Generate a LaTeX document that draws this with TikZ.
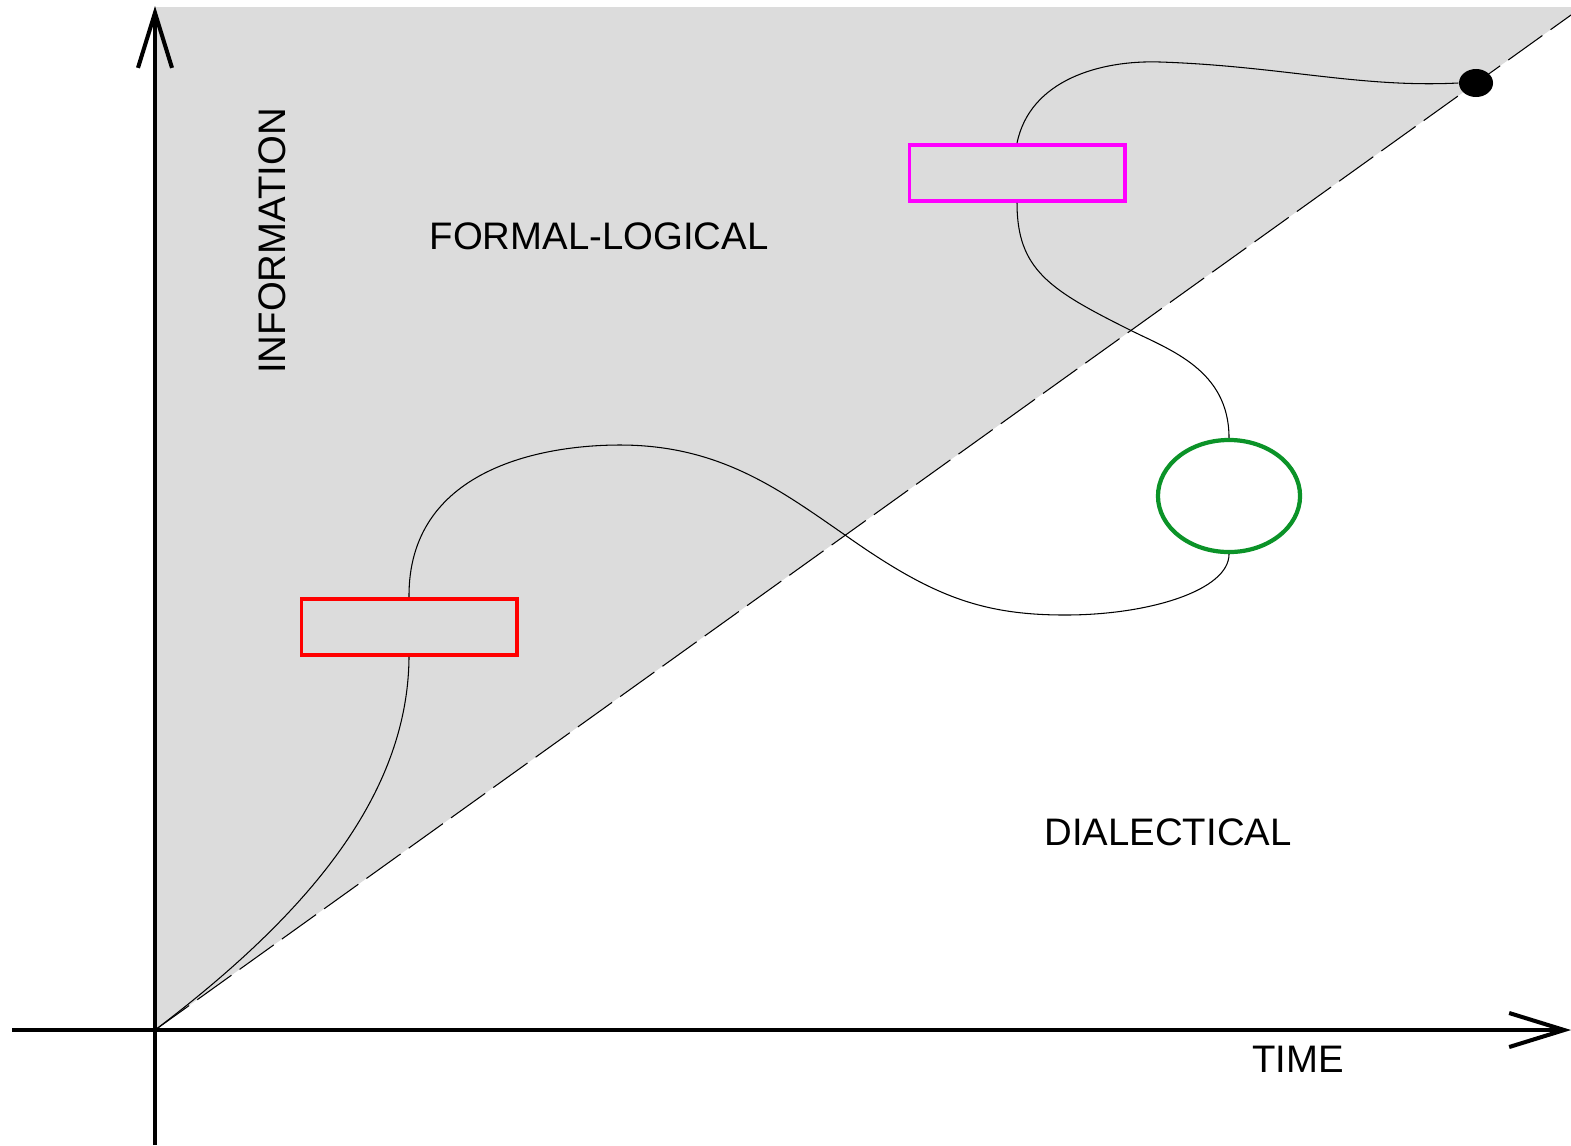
\documentclass[tikz,border=0pt]{standalone}
\usepackage{fontspec}
\setmainfont{Liberation Sans}
\usepackage{tikz}
\usetikzlibrary{arrows.meta, positioning, shapes.geometric}

\definecolor{zoneGrey}{HTML}{DCDCDC}
\definecolor{boxMagenta}{HTML}{FF00FF}
\definecolor{boxRed}{HTML}{FF0000}
\definecolor{ringGreen}{HTML}{0B9328}

\begin{document}
\begin{tikzpicture}[x=0.01cm, y=-0.01cm,
    axis/.style={line width=1.15pt, -{Straight Barb[length=0.55cm, width=0.34cm, line width=1.15pt]}},
    stage/.style={draw, line width=1.1pt, fill=zoneGrey, minimum width=2.15cm, minimum height=0.56cm, inner sep=0pt},
    ring/.style={ellipse, draw=ringGreen, line width=1.2pt, fill=white, minimum width=1.42cm, minimum height=1.12cm, inner sep=0pt},
    label/.style={font=\fontsize{10.9}{13}\selectfont, inner sep=0pt},
    path/.style={line width=0.3pt}
]
\useasboundingbox (0,0) rectangle (1571,1145);

% Zone above the boundary line
\coordinate (origin) at (155,1030);
\coordinate (edge) at (1571,15);
\fill[zoneGrey] (origin) -- (155,7) -- (1571,7) -- (edge) -- cycle;
\draw[line width=0.3pt, dash pattern=on 0.42cm off 0.1cm] (origin) -- (edge);

% Axes
\coordinate (ybot) at (155,1145);
\coordinate (ytop) at (155,6);
\coordinate (xleft) at (12,1030);
\coordinate (xright) at (1571,1030);
\draw[axis] (ybot) -- (ytop);
\draw[axis] (xleft) -- (xright);

% Stages
\node[stage, draw=boxRed] (low) at (409,627) {};
\node[stage, draw=boxMagenta] (high) at (1017,173) {};
\node[ring] (loop) at (1229,496) {};
\node[ellipse, fill=black, minimum width=0.34cm, minimum height=0.28cm, inner sep=0pt] (goal) at (1476,83) {};

% Labels
\node[label, rotate=90] (info) at (272,241) {INFORMATION};
\node[label] (formal) at (599,236) {FORMAL-LOGICAL};
\node[label] (dial) at (1168,832) {DIALECTICAL};
\node[label] (time) at (1298,1059) {TIME};

% Path of development
\draw[path] (origin) .. controls (300,920) and (408,800) .. (low.south);
\draw[path] (low.north) .. controls (408,470) and (540,445) .. (620,445)
    .. controls (720,445) and (780,490) .. (845,535)
    .. controls (930,595) and (980,615) .. (1065,615)
    .. controls (1150,615) and (1229,590) .. (loop.south);
\draw[path] (loop.north) .. controls (1229,370) and (1170,350) .. (1130,330)
    .. controls (1050,290) and (1017,270) .. (high.south);
\draw[path] (high.north) .. controls (1030,80) and (1100,60) .. (1160,62)
    .. controls (1280,66) and (1360,88) .. (goal.west);

\end{tikzpicture}
\end{document}
